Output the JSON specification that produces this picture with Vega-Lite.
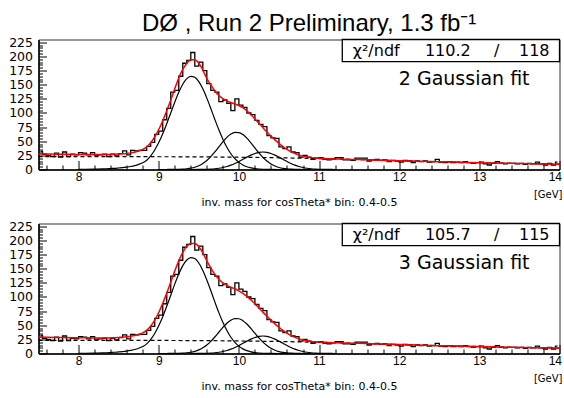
{
  "$schema": "https://vega.github.io/schema/vega-lite/v6.json",
  "background": "white",
  "padding": {"left": 7.5, "top": 11.5, "right": 0, "bottom": 0},
  "title": {
    "text": "DØ , Run 2 Preliminary, 1.3 fb⁻¹",
    "font": "Liberation Sans",
    "fontSize": 24,
    "fontWeight": "normal",
    "color": "black",
    "anchor": "start",
    "frame": "group",
    "dx": 103.5,
    "offset": -19.6,
    "baseline": "alphabetic"
  },
  "datasets": {
    "hist": [
      {"mass": 7.525, "entries": 32}, {"mass": 7.575, "entries": 27}, {"mass": 7.625, "entries": 25}, {"mass": 7.675, "entries": 23}, {"mass": 7.725, "entries": 29},
      {"mass": 7.775, "entries": 22}, {"mass": 7.825, "entries": 31}, {"mass": 7.875, "entries": 23}, {"mass": 7.925, "entries": 27}, {"mass": 7.975, "entries": 26},
      {"mass": 8.025, "entries": 30}, {"mass": 8.075, "entries": 29}, {"mass": 8.125, "entries": 26}, {"mass": 8.175, "entries": 30}, {"mass": 8.225, "entries": 25},
      {"mass": 8.275, "entries": 26}, {"mass": 8.325, "entries": 27}, {"mass": 8.375, "entries": 23}, {"mass": 8.425, "entries": 27}, {"mass": 8.475, "entries": 24},
      {"mass": 8.525, "entries": 28}, {"mass": 8.575, "entries": 33}, {"mass": 8.625, "entries": 26}, {"mass": 8.675, "entries": 34}, {"mass": 8.725, "entries": 33},
      {"mass": 8.775, "entries": 34}, {"mass": 8.825, "entries": 34}, {"mass": 8.875, "entries": 41}, {"mass": 8.925, "entries": 48}, {"mass": 8.975, "entries": 62},
      {"mass": 9.025, "entries": 68}, {"mass": 9.075, "entries": 88}, {"mass": 9.125, "entries": 108}, {"mass": 9.175, "entries": 137}, {"mass": 9.225, "entries": 140},
      {"mass": 9.275, "entries": 165}, {"mass": 9.325, "entries": 188}, {"mass": 9.375, "entries": 193}, {"mass": 9.425, "entries": 207}, {"mass": 9.475, "entries": 183},
      {"mass": 9.525, "entries": 190}, {"mass": 9.575, "entries": 175}, {"mass": 9.625, "entries": 152}, {"mass": 9.675, "entries": 140}, {"mass": 9.725, "entries": 137},
      {"mass": 9.775, "entries": 120}, {"mass": 9.825, "entries": 123}, {"mass": 9.875, "entries": 117}, {"mass": 9.925, "entries": 104}, {"mass": 9.975, "entries": 125},
      {"mass": 10.025, "entries": 114}, {"mass": 10.075, "entries": 110}, {"mass": 10.125, "entries": 100}, {"mass": 10.175, "entries": 97}, {"mass": 10.225, "entries": 87},
      {"mass": 10.275, "entries": 80}, {"mass": 10.325, "entries": 76}, {"mass": 10.375, "entries": 60}, {"mass": 10.425, "entries": 56}, {"mass": 10.475, "entries": 55},
      {"mass": 10.525, "entries": 40}, {"mass": 10.575, "entries": 37}, {"mass": 10.625, "entries": 40}, {"mass": 10.675, "entries": 31}, {"mass": 10.725, "entries": 30},
      {"mass": 10.775, "entries": 22}, {"mass": 10.825, "entries": 25}, {"mass": 10.875, "entries": 22}, {"mass": 10.925, "entries": 18}, {"mass": 10.975, "entries": 20},
      {"mass": 11.025, "entries": 21}, {"mass": 11.075, "entries": 18}, {"mass": 11.125, "entries": 17}, {"mass": 11.175, "entries": 19}, {"mass": 11.225, "entries": 21},
      {"mass": 11.275, "entries": 21}, {"mass": 11.325, "entries": 17}, {"mass": 11.375, "entries": 17}, {"mass": 11.425, "entries": 16}, {"mass": 11.475, "entries": 20},
      {"mass": 11.525, "entries": 20}, {"mass": 11.575, "entries": 20}, {"mass": 11.625, "entries": 15}, {"mass": 11.675, "entries": 17}, {"mass": 11.725, "entries": 18},
      {"mass": 11.775, "entries": 16}, {"mass": 11.825, "entries": 17}, {"mass": 11.875, "entries": 14}, {"mass": 11.925, "entries": 16}, {"mass": 11.975, "entries": 15},
      {"mass": 12.025, "entries": 13}, {"mass": 12.075, "entries": 16}, {"mass": 12.125, "entries": 15}, {"mass": 12.175, "entries": 12}, {"mass": 12.225, "entries": 15},
      {"mass": 12.275, "entries": 14}, {"mass": 12.325, "entries": 15}, {"mass": 12.375, "entries": 13}, {"mass": 12.425, "entries": 14}, {"mass": 12.475, "entries": 18},
      {"mass": 12.525, "entries": 13}, {"mass": 12.575, "entries": 12}, {"mass": 12.625, "entries": 14}, {"mass": 12.675, "entries": 12}, {"mass": 12.725, "entries": 13},
      {"mass": 12.775, "entries": 12}, {"mass": 12.825, "entries": 14}, {"mass": 12.875, "entries": 12}, {"mass": 12.925, "entries": 11}, {"mass": 12.975, "entries": 12},
      {"mass": 13.025, "entries": 13}, {"mass": 13.075, "entries": 10}, {"mass": 13.125, "entries": 8}, {"mass": 13.175, "entries": 11}, {"mass": 13.225, "entries": 14},
      {"mass": 13.275, "entries": 11}, {"mass": 13.325, "entries": 10}, {"mass": 13.375, "entries": 11}, {"mass": 13.425, "entries": 11}, {"mass": 13.475, "entries": 10},
      {"mass": 13.525, "entries": 11}, {"mass": 13.575, "entries": 9}, {"mass": 13.625, "entries": 11}, {"mass": 13.675, "entries": 10}, {"mass": 13.725, "entries": 13},
      {"mass": 13.775, "entries": 10}, {"mass": 13.825, "entries": 8}, {"mass": 13.875, "entries": 11}, {"mass": 13.925, "entries": 8}, {"mass": 13.975, "entries": 13}
    ],
    "fit_2g": [
      {"mass": 7.5, "value": 27.5}, {"mass": 7.75, "value": 27.0}, {"mass": 8.0, "value": 26.5}, {"mass": 8.25, "value": 26.5}, {"mass": 8.5, "value": 27.4},
      {"mass": 8.55, "value": 27.8}, {"mass": 8.6, "value": 28.5}, {"mass": 8.65, "value": 29.4}, {"mass": 8.7, "value": 30.7}, {"mass": 8.75, "value": 32.7},
      {"mass": 8.8, "value": 35.5}, {"mass": 8.85, "value": 39.9}, {"mass": 8.9, "value": 47.4}, {"mass": 8.95, "value": 57.7}, {"mass": 9.0, "value": 70.7},
      {"mass": 9.05, "value": 86.3}, {"mass": 9.1, "value": 103.9}, {"mass": 9.15, "value": 122.8}, {"mass": 9.2, "value": 143}, {"mass": 9.25, "value": 162},
      {"mass": 9.3, "value": 177}, {"mass": 9.35, "value": 188}, {"mass": 9.4, "value": 194}, {"mass": 9.45, "value": 194}, {"mass": 9.5, "value": 188},
      {"mass": 9.55, "value": 176}, {"mass": 9.6, "value": 161}, {"mass": 9.65, "value": 149.5}, {"mass": 9.7, "value": 139}, {"mass": 9.75, "value": 131},
      {"mass": 9.8, "value": 125.5}, {"mass": 9.85, "value": 121.5}, {"mass": 9.9, "value": 118.5}, {"mass": 9.95, "value": 116}, {"mass": 10.0, "value": 113},
      {"mass": 10.05, "value": 109.4}, {"mass": 10.1, "value": 103.7}, {"mass": 10.15, "value": 97}, {"mass": 10.2, "value": 89.5}, {"mass": 10.25, "value": 81.8},
      {"mass": 10.3, "value": 74}, {"mass": 10.35, "value": 66.5}, {"mass": 10.4, "value": 59.2}, {"mass": 10.45, "value": 52.4}, {"mass": 10.5, "value": 46.2},
      {"mass": 10.55, "value": 40.6}, {"mass": 10.6, "value": 35.7}, {"mass": 10.65, "value": 31.6}, {"mass": 10.7, "value": 28.2}, {"mass": 10.75, "value": 25.5},
      {"mass": 10.8, "value": 23.5}, {"mass": 10.85, "value": 22}, {"mass": 10.9, "value": 21}, {"mass": 10.95, "value": 20.3}, {"mass": 11.0, "value": 19.8},
      {"mass": 11.1, "value": 19.2}, {"mass": 11.25, "value": 18.5}, {"mass": 11.5, "value": 17.6}, {"mass": 11.75, "value": 16.55}, {"mass": 12.0, "value": 15.5},
      {"mass": 12.5, "value": 13.6}, {"mass": 13.0, "value": 12.0}, {"mass": 13.5, "value": 10.6}, {"mass": 14.0, "value": 9.4}
    ],
    "peak1_2g": [
      {"mass": 8.0, "value": 0.2}, {"mass": 8.2, "value": 0.7}, {"mass": 8.3, "value": 1.0}, {"mass": 8.35, "value": 1.3}, {"mass": 8.4, "value": 1.7},
      {"mass": 8.45, "value": 2.1}, {"mass": 8.5, "value": 2.7}, {"mass": 8.55, "value": 3.3}, {"mass": 8.6, "value": 4.2}, {"mass": 8.65, "value": 5.3},
      {"mass": 8.7, "value": 6.8}, {"mass": 8.75, "value": 9.0}, {"mass": 8.8, "value": 12.0}, {"mass": 8.85, "value": 16.5}, {"mass": 8.9, "value": 24.1},
      {"mass": 8.95, "value": 34.5}, {"mass": 9.0, "value": 47.6}, {"mass": 9.05, "value": 63.3}, {"mass": 9.1, "value": 81.1}, {"mass": 9.15, "value": 100.1},
      {"mass": 9.2, "value": 119.1}, {"mass": 9.25, "value": 136.5}, {"mass": 9.3, "value": 150.9}, {"mass": 9.35, "value": 160.7}, {"mass": 9.4, "value": 164.9},
      {"mass": 9.45, "value": 163.1}, {"mass": 9.5, "value": 155.4}, {"mass": 9.55, "value": 142.7}, {"mass": 9.6, "value": 126.3}, {"mass": 9.65, "value": 107.8},
      {"mass": 9.7, "value": 88.6}, {"mass": 9.75, "value": 70.2}, {"mass": 9.8, "value": 53.6}, {"mass": 9.85, "value": 39.4}, {"mass": 9.9, "value": 27.9},
      {"mass": 9.95, "value": 19.1}, {"mass": 10.0, "value": 12.6}, {"mass": 10.05, "value": 8.0}, {"mass": 10.1, "value": 4.88}, {"mass": 10.15, "value": 2.87},
      {"mass": 10.2, "value": 1.63}, {"mass": 10.25, "value": 0.89}, {"mass": 10.3, "value": 0.47}, {"mass": 10.4, "value": 0.12}, {"mass": 10.5, "value": 0.03},
      {"mass": 10.7, "value": 0}
    ],
    "peak2_2g": [
      {"mass": 9.0, "value": 0.01}, {"mass": 9.1, "value": 0.04}, {"mass": 9.2, "value": 0.14}, {"mass": 9.25, "value": 0.31}, {"mass": 9.3, "value": 0.64},
      {"mass": 9.35, "value": 1.24}, {"mass": 9.4, "value": 2.3}, {"mass": 9.45, "value": 4.04}, {"mass": 9.5, "value": 6.74}, {"mass": 9.55, "value": 10.7},
      {"mass": 9.6, "value": 16.0}, {"mass": 9.65, "value": 22.9}, {"mass": 9.7, "value": 31.1}, {"mass": 9.75, "value": 40.0}, {"mass": 9.8, "value": 49.0},
      {"mass": 9.85, "value": 56.9}, {"mass": 9.9, "value": 62.7}, {"mass": 9.95, "value": 65.7}, {"mass": 10.0, "value": 65.4}, {"mass": 10.05, "value": 61.8},
      {"mass": 10.1, "value": 55.4}, {"mass": 10.15, "value": 47.2}, {"mass": 10.2, "value": 38.2}, {"mass": 10.25, "value": 29.4}, {"mass": 10.3, "value": 21.4},
      {"mass": 10.35, "value": 14.9}, {"mass": 10.4, "value": 9.8}, {"mass": 10.45, "value": 6.1}, {"mass": 10.5, "value": 3.6}, {"mass": 10.55, "value": 2.04},
      {"mass": 10.6, "value": 1.09}, {"mass": 10.65, "value": 0.56}, {"mass": 10.7, "value": 0.27}, {"mass": 10.75, "value": 0.12}, {"mass": 10.9, "value": 0}
    ],
    "peak3": [
      {"mass": 9.4, "value": 0.03}, {"mass": 9.5, "value": 0.12}, {"mass": 9.55, "value": 0.23}, {"mass": 9.6, "value": 0.44}, {"mass": 9.65, "value": 0.79},
      {"mass": 9.7, "value": 1.36}, {"mass": 9.75, "value": 2.24}, {"mass": 9.8, "value": 3.54}, {"mass": 9.85, "value": 5.34}, {"mass": 9.9, "value": 7.73},
      {"mass": 9.95, "value": 10.7}, {"mass": 10.0, "value": 14.2}, {"mass": 10.05, "value": 18.0}, {"mass": 10.1, "value": 21.9}, {"mass": 10.15, "value": 25.5},
      {"mass": 10.2, "value": 28.4}, {"mass": 10.25, "value": 30.3}, {"mass": 10.3, "value": 31.0}, {"mass": 10.35, "value": 30.3}, {"mass": 10.4, "value": 28.4},
      {"mass": 10.45, "value": 25.5}, {"mass": 10.5, "value": 21.9}, {"mass": 10.55, "value": 18.0}, {"mass": 10.6, "value": 14.2}, {"mass": 10.65, "value": 10.7},
      {"mass": 10.7, "value": 7.73}, {"mass": 10.75, "value": 5.34}, {"mass": 10.8, "value": 3.54}, {"mass": 10.85, "value": 2.24}, {"mass": 10.9, "value": 1.36},
      {"mass": 10.95, "value": 0.79}, {"mass": 11.0, "value": 0.44}, {"mass": 11.05, "value": 0.23}, {"mass": 11.1, "value": 0.12}, {"mass": 11.2, "value": 0.03}
    ],
    "background_2g": [
      {"mass": 7.5, "value": 22.8}, {"mass": 8.0, "value": 22.8}, {"mass": 8.5, "value": 22.7}, {"mass": 9.0, "value": 22.6}, {"mass": 9.5, "value": 22.3},
      {"mass": 10.0, "value": 21.7}, {"mass": 10.5, "value": 20.7}, {"mass": 11.0, "value": 19.4}, {"mass": 11.5, "value": 17.6}, {"mass": 12.0, "value": 15.5},
      {"mass": 12.5, "value": 13.6}, {"mass": 13.0, "value": 12.0}, {"mass": 13.5, "value": 10.6}, {"mass": 14.0, "value": 9.4}
    ],
    "fit_3g": [
      {"mass": 7.5, "value": 29.3}, {"mass": 7.75, "value": 28.5}, {"mass": 8.0, "value": 27.8}, {"mass": 8.25, "value": 27.6}, {"mass": 8.5, "value": 28.5},
      {"mass": 8.55, "value": 28.8}, {"mass": 8.6, "value": 29.5}, {"mass": 8.65, "value": 30.4}, {"mass": 8.7, "value": 31.7}, {"mass": 8.75, "value": 33.7},
      {"mass": 8.8, "value": 36.5}, {"mass": 8.85, "value": 40.9}, {"mass": 8.9, "value": 48.6}, {"mass": 8.95, "value": 59.2}, {"mass": 9.0, "value": 72.6},
      {"mass": 9.05, "value": 88.7}, {"mass": 9.1, "value": 106.8}, {"mass": 9.15, "value": 126.3}, {"mass": 9.2, "value": 145.9}, {"mass": 9.25, "value": 163.8},
      {"mass": 9.3, "value": 178.9}, {"mass": 9.35, "value": 189.6}, {"mass": 9.4, "value": 194.8}, {"mass": 9.45, "value": 194.6}, {"mass": 9.5, "value": 189.4},
      {"mass": 9.55, "value": 178}, {"mass": 9.6, "value": 164}, {"mass": 9.65, "value": 151}, {"mass": 9.7, "value": 140}, {"mass": 9.75, "value": 131.5},
      {"mass": 9.8, "value": 125}, {"mass": 9.85, "value": 120.5}, {"mass": 9.9, "value": 117}, {"mass": 9.95, "value": 114.5}, {"mass": 10.0, "value": 110.9},
      {"mass": 10.05, "value": 106.4}, {"mass": 10.1, "value": 101.0}, {"mass": 10.15, "value": 94.8}, {"mass": 10.2, "value": 87.8}, {"mass": 10.25, "value": 80.5},
      {"mass": 10.3, "value": 73.2}, {"mass": 10.35, "value": 66.1}, {"mass": 10.4, "value": 59.1}, {"mass": 10.45, "value": 52.5}, {"mass": 10.5, "value": 46.5},
      {"mass": 10.55, "value": 41.0}, {"mass": 10.6, "value": 36.1}, {"mass": 10.65, "value": 32.0}, {"mass": 10.7, "value": 28.6}, {"mass": 10.75, "value": 25.9},
      {"mass": 10.8, "value": 23.9}, {"mass": 10.85, "value": 22.5}, {"mass": 10.9, "value": 21.4}, {"mass": 10.95, "value": 20.7}, {"mass": 11.0, "value": 20.2},
      {"mass": 11.1, "value": 19.6}, {"mass": 11.25, "value": 18.9}, {"mass": 11.5, "value": 18.0}, {"mass": 11.75, "value": 16.9}, {"mass": 12.0, "value": 15.8},
      {"mass": 12.5, "value": 13.9}, {"mass": 13.0, "value": 12.2}, {"mass": 13.5, "value": 10.8}, {"mass": 14.0, "value": 9.5}
    ],
    "peak1_3g": [
      {"mass": 8.0, "value": 0.2}, {"mass": 8.2, "value": 0.7}, {"mass": 8.3, "value": 1.0}, {"mass": 8.35, "value": 1.3}, {"mass": 8.4, "value": 1.75},
      {"mass": 8.45, "value": 2.2}, {"mass": 8.5, "value": 2.8}, {"mass": 8.55, "value": 3.4}, {"mass": 8.6, "value": 4.3}, {"mass": 8.65, "value": 5.5},
      {"mass": 8.7, "value": 7.0}, {"mass": 8.75, "value": 9.3}, {"mass": 8.8, "value": 12.4}, {"mass": 8.85, "value": 17.0}, {"mass": 8.9, "value": 24.8},
      {"mass": 8.95, "value": 35.5}, {"mass": 9.0, "value": 49.0}, {"mass": 9.05, "value": 65.2}, {"mass": 9.1, "value": 83.5}, {"mass": 9.15, "value": 103.1},
      {"mass": 9.2, "value": 122.7}, {"mass": 9.25, "value": 140.6}, {"mass": 9.3, "value": 155.4}, {"mass": 9.35, "value": 165.5}, {"mass": 9.4, "value": 169.8},
      {"mass": 9.45, "value": 168.0}, {"mass": 9.5, "value": 160.1}, {"mass": 9.55, "value": 147.0}, {"mass": 9.6, "value": 130.1}, {"mass": 9.65, "value": 111.0},
      {"mass": 9.7, "value": 91.3}, {"mass": 9.75, "value": 72.3}, {"mass": 9.8, "value": 55.2}, {"mass": 9.85, "value": 40.6}, {"mass": 9.9, "value": 28.7},
      {"mass": 9.95, "value": 19.7}, {"mass": 10.0, "value": 13.0}, {"mass": 10.05, "value": 8.2}, {"mass": 10.1, "value": 5.0}, {"mass": 10.15, "value": 2.96},
      {"mass": 10.2, "value": 1.68}, {"mass": 10.25, "value": 0.92}, {"mass": 10.3, "value": 0.48}, {"mass": 10.4, "value": 0.12}, {"mass": 10.5, "value": 0.03},
      {"mass": 10.7, "value": 0}
    ],
    "peak2_3g": [
      {"mass": 9.0, "value": 0.01}, {"mass": 9.1, "value": 0.04}, {"mass": 9.2, "value": 0.13}, {"mass": 9.25, "value": 0.29}, {"mass": 9.3, "value": 0.6},
      {"mass": 9.35, "value": 1.17}, {"mass": 9.4, "value": 2.16}, {"mass": 9.45, "value": 3.8}, {"mass": 9.5, "value": 6.34}, {"mass": 9.55, "value": 10.1},
      {"mass": 9.6, "value": 15.0}, {"mass": 9.65, "value": 21.5}, {"mass": 9.7, "value": 29.2}, {"mass": 9.75, "value": 37.6}, {"mass": 9.8, "value": 46.1},
      {"mass": 9.85, "value": 53.5}, {"mass": 9.9, "value": 58.9}, {"mass": 9.95, "value": 61.8}, {"mass": 10.0, "value": 61.5}, {"mass": 10.05, "value": 58.1},
      {"mass": 10.1, "value": 52.1}, {"mass": 10.15, "value": 44.4}, {"mass": 10.2, "value": 35.9}, {"mass": 10.25, "value": 27.6}, {"mass": 10.3, "value": 20.1},
      {"mass": 10.35, "value": 14.0}, {"mass": 10.4, "value": 9.2}, {"mass": 10.45, "value": 5.7}, {"mass": 10.5, "value": 3.4}, {"mass": 10.55, "value": 1.9},
      {"mass": 10.6, "value": 1.02}, {"mass": 10.65, "value": 0.53}, {"mass": 10.7, "value": 0.25}, {"mass": 10.75, "value": 0.11}, {"mass": 10.9, "value": 0}
    ],
    "background_3g": [
      {"mass": 7.5, "value": 23.3}, {"mass": 8.0, "value": 23.3}, {"mass": 8.5, "value": 23.2}, {"mass": 9.0, "value": 23.1}, {"mass": 9.5, "value": 22.8},
      {"mass": 10.0, "value": 22.2}, {"mass": 10.5, "value": 21.2}, {"mass": 11.0, "value": 19.8}, {"mass": 11.5, "value": 18.0}, {"mass": 12.0, "value": 15.8},
      {"mass": 12.5, "value": 13.9}, {"mass": 13.0, "value": 12.2}, {"mass": 13.5, "value": 10.8}, {"mass": 14.0, "value": 9.5}
    ]
  },
  "spacing": 54,
  "bounds": "flush",
  "vconcat": [
    {
      "width": 521,
      "height": 130,
      "resolve": {"axis": {"x": "independent", "y": "independent"}},
      "layer": [
        {
          "data": {"name": "hist"},
          "mark": {"type": "line", "interpolate": "step", "color": "black", "strokeWidth": 1.3},
          "encoding": {
            "x": {
              "field": "mass", "type": "quantitative",
              "scale": {"domain": [7.5, 14], "nice": false, "zero": false},
              "axis": {
                "orient": "bottom",
                "values": [8, 9, 10, 11, 12, 13, 14],
                "format": "d",
                "tickSize": -9,
                "labelPadding": 11,
                "labelFlush": true,
                "labelFlushOffset": 2,
                "title": "inv. mass for cosTheta* bin: 0.4-0.5",
                "titlePadding": 14
              }
            },
            "y": {
              "field": "entries", "type": "quantitative",
              "scale": {"domain": [0, 230], "nice": false},
              "axis": {
                "orient": "left",
                "values": [0, 25, 50, 75, 100, 125, 150, 175, 200, 225],
                "tickSize": -8,
                "labelPadding": 14,
                "title": null
              }
            }
          }
        },
        {
          "data": {"name": "background_2g"},
          "mark": {"type": "line", "interpolate": "monotone", "color": "black", "strokeWidth": 1.2, "strokeDash": [4, 3]},
          "encoding": {
            "x": {
              "field": "mass", "type": "quantitative",
              "axis": {
                "orient": "bottom",
                "values": [7.6, 7.8, 8.2, 8.4, 8.6, 8.8, 9.2, 9.4, 9.6, 9.8, 10.2, 10.4, 10.6, 10.8, 11.2, 11.4, 11.6, 11.8, 12.2, 12.4, 12.6, 12.8, 13.2, 13.4, 13.6, 13.8],
                "tickSize": -4.5,
                "labels": false,
                "domain": false,
                "title": null
              }
            },
            "y": {
              "field": "value", "type": "quantitative",
              "axis": {
                "orient": "left",
                "values": [5, 10, 15, 20, 30, 35, 40, 45, 55, 60, 65, 70, 80, 85, 90, 95, 105, 110, 115, 120, 130, 135, 140, 145, 155, 160, 165, 170, 180, 185, 190, 195, 205, 210, 215, 220],
                "tickSize": -4,
                "labels": false,
                "domain": false,
                "title": null
              }
            }
          }
        },
        {
          "data": {"name": "peak1_2g"},
          "mark": {"type": "line", "interpolate": "monotone", "color": "black", "strokeWidth": 1.2},
          "encoding": {
            "x": {"field": "mass", "type": "quantitative", "axis": null},
            "y": {"field": "value", "type": "quantitative", "axis": null}
          }
        },
        {
          "data": {"name": "peak2_2g"},
          "mark": {"type": "line", "interpolate": "monotone", "color": "black", "strokeWidth": 1.2},
          "encoding": {
            "x": {"field": "mass", "type": "quantitative", "axis": null},
            "y": {"field": "value", "type": "quantitative", "axis": null}
          }
        },
        {
          "data": {"name": "peak3"},
          "mark": {"type": "line", "interpolate": "monotone", "color": "black", "strokeWidth": 1.2},
          "encoding": {
            "x": {"field": "mass", "type": "quantitative", "axis": null},
            "y": {"field": "value", "type": "quantitative", "axis": null}
          }
        },
        {
          "data": {"name": "fit_2g"},
          "mark": {"type": "line", "interpolate": "monotone", "color": "#ff0000", "strokeWidth": 1.5},
          "encoding": {
            "x": {"field": "mass", "type": "quantitative", "axis": null},
            "y": {"field": "value", "type": "quantitative", "axis": null}
          }
        },
        {
          "data": {"values": [{"chi2": 110.2, "ndf": 118, "model": "2 Gaussian fit", "unit": "[GeV]"}]},
          "layer": [
            {
              "mark": {"type": "rect", "fill": "white", "stroke": "black", "strokeWidth": 1.3},
              "encoding": {
                "x": {"datum": 11.29, "axis": null}, "x2": {"datum": 14},
                "y": {"datum": 230, "axis": null}, "y2": {"datum": 191}
              }
            },
            {
              "mark": {"type": "text", "align": "left", "baseline": "alphabetic", "font": "DejaVu Sans", "fontSize": 16, "color": "black"},
              "encoding": {"x": {"datum": 11.42, "axis": null}, "y": {"datum": 200.5, "axis": null}, "text": {"value": "χ²/ndf"}}
            },
            {
              "mark": {"type": "text", "align": "center", "baseline": "alphabetic", "font": "DejaVu Sans", "fontSize": 16, "color": "black"},
              "encoding": {"x": {"datum": 12.607, "axis": null}, "y": {"datum": 200.5, "axis": null}, "text": {"field": "chi2", "format": ".1f"}}
            },
            {
              "mark": {"type": "text", "align": "center", "baseline": "alphabetic", "font": "DejaVu Sans", "fontSize": 16, "color": "black"},
              "encoding": {"x": {"datum": 13.217, "axis": null}, "y": {"datum": 200.5, "axis": null}, "text": {"value": "/"}}
            },
            {
              "mark": {"type": "text", "align": "right", "baseline": "alphabetic", "font": "DejaVu Sans", "fontSize": 16, "color": "black"},
              "encoding": {"x": {"datum": 13.876, "axis": null}, "y": {"datum": 200.5, "axis": null}, "text": {"field": "ndf"}}
            },
            {
              "mark": {"type": "text", "align": "left", "baseline": "alphabetic", "font": "DejaVu Sans", "fontSize": 19, "color": "black"},
              "encoding": {"x": {"datum": 11.995, "axis": null}, "y": {"datum": 149.3, "axis": null}, "text": {"field": "model"}}
            },
            {
              "mark": {"type": "text", "align": "right", "baseline": "middle", "font": "DejaVu Sans", "fontSize": 10, "color": "black", "dx": 3},
              "encoding": {"x": {"datum": 14, "axis": null}, "y": {"datum": -45, "axis": null}, "text": {"field": "unit"}}
            }
          ]
        }
      ]
    },
    {
      "width": 521,
      "height": 130,
      "resolve": {"axis": {"x": "independent", "y": "independent"}},
      "layer": [
        {
          "data": {"name": "hist"},
          "mark": {"type": "line", "interpolate": "step", "color": "black", "strokeWidth": 1.3},
          "encoding": {
            "x": {
              "field": "mass", "type": "quantitative",
              "scale": {"domain": [7.5, 14], "nice": false, "zero": false},
              "axis": {
                "orient": "bottom",
                "values": [8, 9, 10, 11, 12, 13, 14],
                "format": "d",
                "tickSize": -9,
                "labelPadding": 11,
                "labelFlush": true,
                "labelFlushOffset": 2,
                "title": "inv. mass for cosTheta* bin: 0.4-0.5",
                "titlePadding": 14
              }
            },
            "y": {
              "field": "entries", "type": "quantitative",
              "scale": {"domain": [0, 230], "nice": false},
              "axis": {
                "orient": "left",
                "values": [0, 25, 50, 75, 100, 125, 150, 175, 200, 225],
                "tickSize": -8,
                "labelPadding": 14,
                "title": null
              }
            }
          }
        },
        {
          "data": {"name": "background_3g"},
          "mark": {"type": "line", "interpolate": "monotone", "color": "black", "strokeWidth": 1.2, "strokeDash": [4, 3]},
          "encoding": {
            "x": {
              "field": "mass", "type": "quantitative",
              "axis": {
                "orient": "bottom",
                "values": [7.6, 7.8, 8.2, 8.4, 8.6, 8.8, 9.2, 9.4, 9.6, 9.8, 10.2, 10.4, 10.6, 10.8, 11.2, 11.4, 11.6, 11.8, 12.2, 12.4, 12.6, 12.8, 13.2, 13.4, 13.6, 13.8],
                "tickSize": -4.5,
                "labels": false,
                "domain": false,
                "title": null
              }
            },
            "y": {
              "field": "value", "type": "quantitative",
              "axis": {
                "orient": "left",
                "values": [5, 10, 15, 20, 30, 35, 40, 45, 55, 60, 65, 70, 80, 85, 90, 95, 105, 110, 115, 120, 130, 135, 140, 145, 155, 160, 165, 170, 180, 185, 190, 195, 205, 210, 215, 220],
                "tickSize": -4,
                "labels": false,
                "domain": false,
                "title": null
              }
            }
          }
        },
        {
          "data": {"name": "peak1_3g"},
          "mark": {"type": "line", "interpolate": "monotone", "color": "black", "strokeWidth": 1.2},
          "encoding": {
            "x": {"field": "mass", "type": "quantitative", "axis": null},
            "y": {"field": "value", "type": "quantitative", "axis": null}
          }
        },
        {
          "data": {"name": "peak2_3g"},
          "mark": {"type": "line", "interpolate": "monotone", "color": "black", "strokeWidth": 1.2},
          "encoding": {
            "x": {"field": "mass", "type": "quantitative", "axis": null},
            "y": {"field": "value", "type": "quantitative", "axis": null}
          }
        },
        {
          "data": {"name": "peak3"},
          "mark": {"type": "line", "interpolate": "monotone", "color": "black", "strokeWidth": 1.2},
          "encoding": {
            "x": {"field": "mass", "type": "quantitative", "axis": null},
            "y": {"field": "value", "type": "quantitative", "axis": null}
          }
        },
        {
          "data": {"name": "fit_3g"},
          "mark": {"type": "line", "interpolate": "monotone", "color": "#ff0000", "strokeWidth": 1.5},
          "encoding": {
            "x": {"field": "mass", "type": "quantitative", "axis": null},
            "y": {"field": "value", "type": "quantitative", "axis": null}
          }
        },
        {
          "data": {"values": [{"chi2": 105.7, "ndf": 115, "model": "3 Gaussian fit", "unit": "[GeV]"}]},
          "layer": [
            {
              "mark": {"type": "rect", "fill": "white", "stroke": "black", "strokeWidth": 1.3},
              "encoding": {
                "x": {"datum": 11.29, "axis": null}, "x2": {"datum": 14},
                "y": {"datum": 230, "axis": null}, "y2": {"datum": 191}
              }
            },
            {
              "mark": {"type": "text", "align": "left", "baseline": "alphabetic", "font": "DejaVu Sans", "fontSize": 16, "color": "black"},
              "encoding": {"x": {"datum": 11.42, "axis": null}, "y": {"datum": 200.5, "axis": null}, "text": {"value": "χ²/ndf"}}
            },
            {
              "mark": {"type": "text", "align": "center", "baseline": "alphabetic", "font": "DejaVu Sans", "fontSize": 16, "color": "black"},
              "encoding": {"x": {"datum": 12.607, "axis": null}, "y": {"datum": 200.5, "axis": null}, "text": {"field": "chi2", "format": ".1f"}}
            },
            {
              "mark": {"type": "text", "align": "center", "baseline": "alphabetic", "font": "DejaVu Sans", "fontSize": 16, "color": "black"},
              "encoding": {"x": {"datum": 13.217, "axis": null}, "y": {"datum": 200.5, "axis": null}, "text": {"value": "/"}}
            },
            {
              "mark": {"type": "text", "align": "right", "baseline": "alphabetic", "font": "DejaVu Sans", "fontSize": 16, "color": "black"},
              "encoding": {"x": {"datum": 13.876, "axis": null}, "y": {"datum": 200.5, "axis": null}, "text": {"field": "ndf"}}
            },
            {
              "mark": {"type": "text", "align": "left", "baseline": "alphabetic", "font": "DejaVu Sans", "fontSize": 19, "color": "black"},
              "encoding": {"x": {"datum": 11.995, "axis": null}, "y": {"datum": 149.3, "axis": null}, "text": {"field": "model"}}
            },
            {
              "mark": {"type": "text", "align": "right", "baseline": "middle", "font": "DejaVu Sans", "fontSize": 10, "color": "black", "dx": 3},
              "encoding": {"x": {"datum": 14, "axis": null}, "y": {"datum": -45, "axis": null}, "text": {"field": "unit"}}
            }
          ]
        }
      ]
    }
  ],
  "config": {
    "view": {"stroke": "#333333", "strokeWidth": 1},
    "axis": {
      "grid": false,
      "domainColor": "black",
      "domainWidth": 1.5,
      "tickColor": "black",
      "tickWidth": 1,
      "labelColor": "black",
      "labelOverlap": false,
      "labelFlush": false,
      "titleColor": "black",
      "titleFont": "DejaVu Sans",
      "titleFontSize": 11,
      "titleFontWeight": "normal"
    },
    "axisX": {"labelFont": "Liberation Sans", "labelFontSize": 12, "labelBaseline": "top"},
    "axisY": {"labelFont": "DejaVu Sans", "labelFontSize": 12.5, "labelBaseline": "middle"}
  }
}
